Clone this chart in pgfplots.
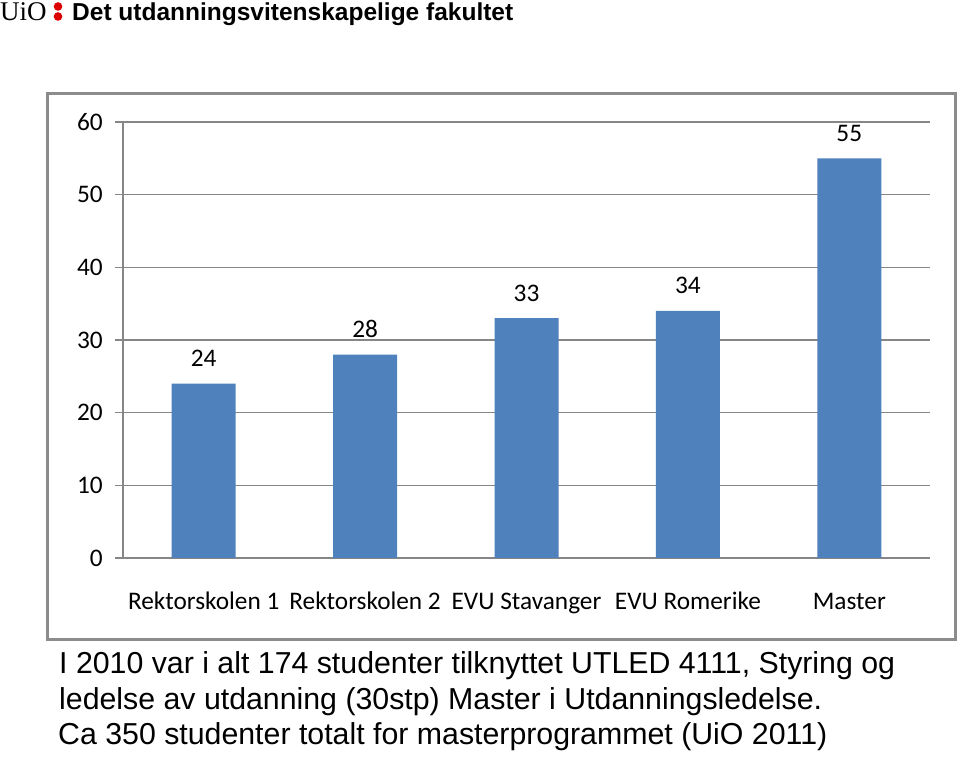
\documentclass[border=0pt]{standalone}
\usepackage{pgfplots}
\pgfplotsset{compat=1.18}
\usepackage{fontspec}
\setmainfont{Carlito}
\newfontfamily\arialf{Liberation Sans}
\newfontfamily\tnrf{Liberation Serif}
\definecolor{barblue}{HTML}{4F81BD}
\definecolor{gridgray}{HTML}{868686}
\definecolor{boxgray}{HTML}{8C8C8C}
\definecolor{uiored}{HTML}{DD0000}
\begin{document}
\begin{tikzpicture}[x=1pt,y=1pt]
\useasboundingbox (0,0) rectangle (960,759);
\fill[white] (0,0) rectangle (960,759);
% header
\node[anchor=base west,inner sep=0pt,font=\tnrf\fontsize{27}{30}\selectfont] at (0,738) {UiO};
\fill[uiored] (58,752.5) circle (4.3);
\fill[uiored] (58,742.5) circle (4.3);
\node[anchor=base west,inner sep=0pt,font=\arialf\bfseries\fontsize{24.5}{29}\selectfont] at (72,738) {Det utdanningsvitenskapelige fakultet};
% chart box
\draw[boxgray,line width=3pt] (47.5,119.5) rectangle (955.5,665.5);
\begin{axis}[
  name=ax,
  at={(123pt,201pt)}, anchor=origin,
  scale only axis, width=807pt, height=436pt,
  xmin=0, xmax=5, ymin=0, ymax=60,
  /pgf/number format/assume math mode=true,
  ytick={0,10,...,60},
  xtick={0.5,1.5,2.5,3.5,4.5},
  xticklabels={Rektorskolen 1,Rektorskolen 2,EVU Stavanger,EVU Romerike,Master},
  minor xtick={0,1,2,3,4,5},
  axis x line*=bottom, axis y line*=left,
  axis line style={gridgray,line width=1.2pt,-},
  ymajorgrids, grid style={gridgray,line width=1.2pt},
  tick align=outside,
  x tick style={draw=none},
  minor x tick style={gridgray,line width=1.2pt},
  minor tick length=9pt,
  y tick style={gridgray,line width=1.2pt},
  major tick length=8pt,
  tick label style={font=\fontsize{25.3}{29}\selectfont, text=black},
  yticklabel style={anchor=east, inner sep=0pt, xshift=-12pt},
  xticklabel style={anchor=base, inner sep=0pt, yshift=-44pt},
  ybar, bar width=64pt,
  nodes near coords,
  every node near coord/.append style={anchor=base, inner sep=0pt, yshift=17pt, font=\fontsize{25.3}{29}\selectfont, text=black},
  clip=false,
]
\addplot[fill=barblue, draw=none] coordinates {(0.5,24) (1.5,28) (2.5,33) (3.5,34) (4.5,55)};
\end{axis}
% caption
\begin{scope}[every node/.style={anchor=base west,inner sep=0pt,font=\arialf\fontsize{30.3}{35}\selectfont}]
\node at (59,85) {I 2010 var i alt 174 studenter tilknyttet UTLED 4111, Styring og};
\node at (59,49) {ledelse av utdanning (30stp) Master i Utdanningsledelse.};
\node at (58,14) {Ca 350 studenter totalt for masterprogrammet (UiO 2011)};
\end{scope}
\end{tikzpicture}
\end{document}
